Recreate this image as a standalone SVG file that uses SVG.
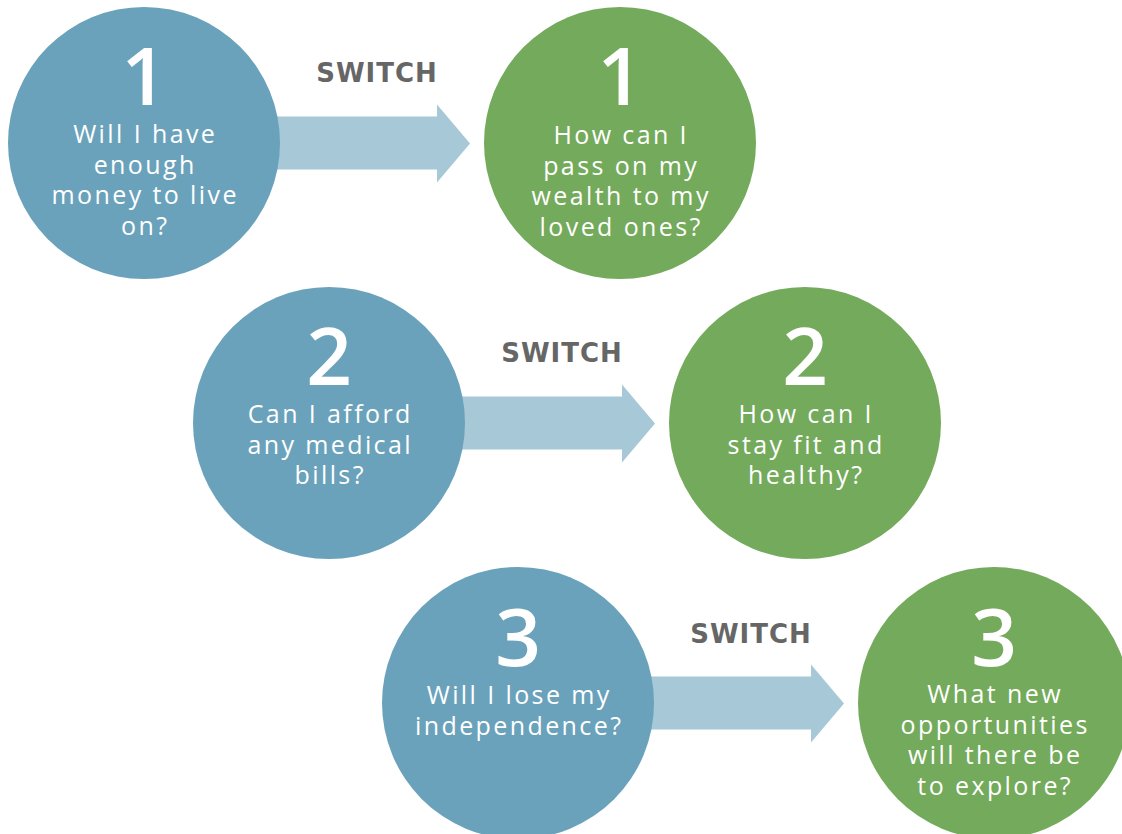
<svg xmlns="http://www.w3.org/2000/svg" width="1122" height="834" viewBox="0 0 1122 834">
  <style>
    .bg { fill: #ffffff; }
    .blue { fill: #6aa2bb; }
    .green { fill: #74aa5b; }
    .arrow { fill: #a7c8d7; }
    .switch { font-family: "DejaVu Sans", "Open Sans", sans-serif; font-weight: bold; font-size: 26px; fill: #666666; text-anchor: middle; letter-spacing: 1px; }
    .num { font-family: "Open Sans", "Liberation Sans", sans-serif; font-weight: 600; font-size: 80px; fill: #ffffff; text-anchor: middle; }
    .q { font-family: "Open Sans", "Liberation Sans", sans-serif; font-weight: 400; font-size: 25px; fill: #ffffff; text-anchor: middle; letter-spacing: 2.4px; }
  </style>
  <rect class="bg" x="0" y="0" width="1122" height="834"/>

  <!-- connectors: block arrows with their labels -->
  <g id="connectors">
    <path class="arrow" d="M 264,116.5 H 437 V 104.5 L 470,143.5 L 437,182.5 V 169.5 H 264 Z"/>
    <text class="switch" x="377" y="82">SWITCH</text>
    <path class="arrow" d="M 449,396.5 H 622 V 384.5 L 655,423.5 L 622,462.5 V 449.5 H 449 Z"/>
    <text class="switch" x="562" y="362">SWITCH</text>
    <path class="arrow" d="M 638,676.5 H 811 V 664.5 L 844,703.5 L 811,742.5 V 729.5 H 638 Z"/>
    <text class="switch" x="751" y="643">SWITCH</text>
  </g>

  <!-- row 1 -->
  <g id="worry-1">
    <circle class="blue" cx="144" cy="143" r="136"/>
    <text class="num" x="144" y="105">1</text>
    <text class="q" x="145.2" y="143">Will I have</text>
    <text class="q" x="145.2" y="173.5">enough</text>
    <text class="q" x="145.2" y="204">money to live</text>
    <text class="q" x="145.2" y="234.5">on?</text>
  </g>
  <g id="switch-1">
    <circle class="green" cx="620" cy="143" r="136"/>
    <text class="num" x="620" y="105">1</text>
    <text class="q" x="621.2" y="144">How can I</text>
    <text class="q" x="621.2" y="174.5">pass on my</text>
    <text class="q" x="621.2" y="205">wealth to my</text>
    <text class="q" x="621.2" y="235.5">loved ones?</text>
  </g>

  <!-- row 2 -->
  <g id="worry-2">
    <circle class="blue" cx="329" cy="423" r="136"/>
    <text class="num" x="329" y="385">2</text>
    <text class="q" x="330.2" y="423">Can I afford</text>
    <text class="q" x="330.2" y="453.5">any medical</text>
    <text class="q" x="330.2" y="484">bills?</text>
  </g>
  <g id="switch-2">
    <circle class="green" cx="805" cy="423" r="136"/>
    <text class="num" x="805" y="385">2</text>
    <text class="q" x="806.2" y="423">How can I</text>
    <text class="q" x="806.2" y="453.5">stay fit and</text>
    <text class="q" x="806.2" y="484">healthy?</text>
  </g>

  <!-- row 3 -->
  <g id="worry-3">
    <circle class="blue" cx="518" cy="703" r="136"/>
    <text class="num" x="518" y="666">3</text>
    <text class="q" x="519.2" y="704">Will I lose my</text>
    <text class="q" x="519.2" y="734.5">independence?</text>
  </g>
  <g id="switch-3">
    <circle class="green" cx="994" cy="703" r="136"/>
    <text class="num" x="994" y="666">3</text>
    <text class="q" x="995.2" y="703">What new</text>
    <text class="q" x="995.2" y="733.5">opportunities</text>
    <text class="q" x="995.2" y="764">will there be</text>
    <text class="q" x="995.2" y="794.5">to explore?</text>
  </g>
</svg>
